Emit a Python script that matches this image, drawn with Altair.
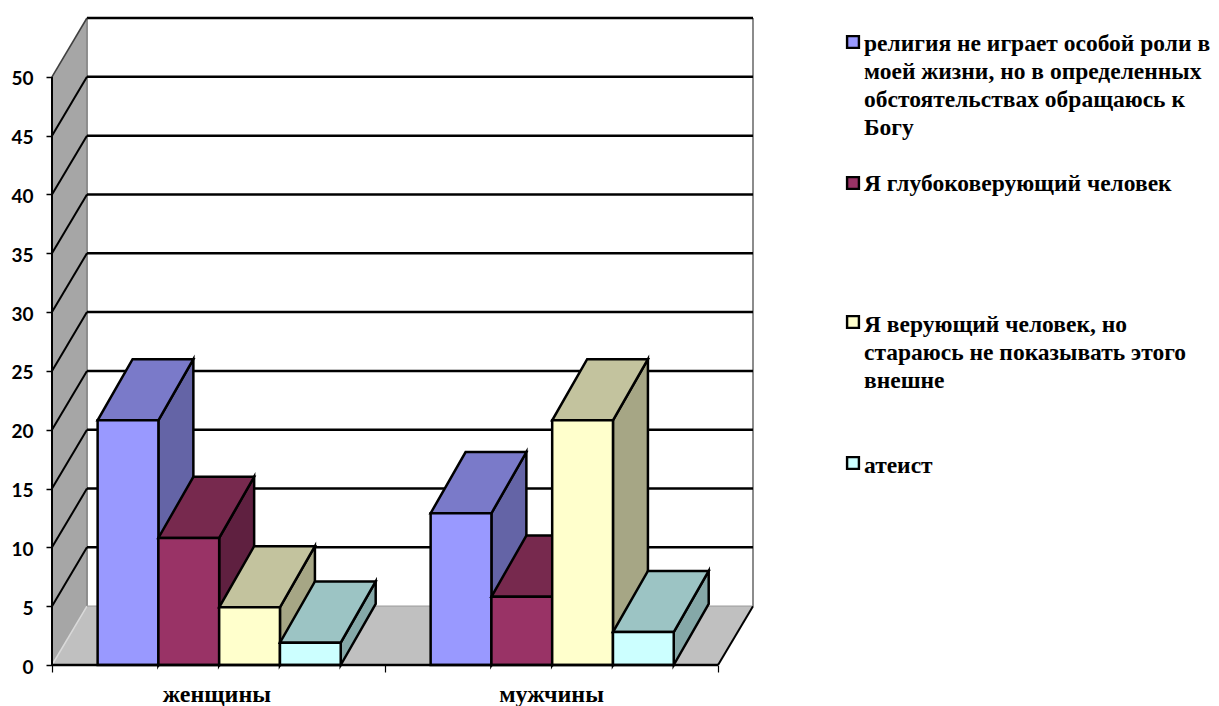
import altair as alt
import pandas as pd

categories = ["женщины", "мужчины"]
series = [
    "религия не играет особой роли в\nмоей жизни, но в определенных\nобстоятельствах обращаюсь к\nБогу",
    "Я глубоковерующий человек",
    "Я верующий человек, но\nстараюсь не показывать этого\nвнешне",
    "атеист",
]
values_women = [20.8, 10.8, 4.9, 1.9]
values_men = [12.9, 5.8, 20.8, 2.8]
front_colors = ["#9999FF", "#993366", "#FFFFCC", "#CCFFFF"]
top_colors = ["#7A7AC9", "#77294E", "#C3C39E", "#9CC4C4"]
side_colors = ["#6464A6", "#5F2040", "#A6A685", "#85A8A8"]
y_ticks = list(range(0, 55, 5))

DX, DY = 0.105, 5          # oblique depth, in axis units
BAR_DY = 5.2
GROUP_START = 0.137
BAR_W = 0.1825
YMAX = 55

sx = alt.Scale(domain=[0, 2 + DX], nice=False, zero=False)
sy = alt.Scale(domain=[0, YMAX], nice=False, zero=False)
x_axis = alt.Axis(
    values=[0, 1, 2], labels=False, title=None, grid=False, domain=False,
    ticks=True, tickSize=7, tickColor="#000000", tickWidth=1.2)
y_axis = alt.Axis(
    values=y_ticks, title=None, grid=False, domain=False, tickSize=6,
    tickColor="#000000", tickWidth=1.5, labelFont="Lato", labelFontWeight="bold",
    labelFontSize=19, labelColor="#000000", labelPadding=13, labelOffset=2)
X = alt.X("x:Q", scale=sx, axis=x_axis)
Y = alt.Y("y:Q", scale=sy, axis=y_axis)

# faces: every polygon is an area with points (x, y, y2)
faces = []
fid = 0
def face(points, fill):
    global fid
    fid += 1
    for px, py, py2 in points:
        faces.append({"x": px, "y": py, "y2": py2, "id": fid, "fill": fill})

for g, vals in enumerate([values_women, values_men]):
    for i, v in enumerate(vals):
        a = g + GROUP_START + i * BAR_W
        b = a + BAR_W
        face([(b, 0, v), (b + DX, BAR_DY, v + BAR_DY)], side_colors[i])
        face([(a, v, v), (a + DX, v, v + BAR_DY), (b, v, v + BAR_DY), (b + DX, v + BAR_DY, v + BAR_DY)], top_colors[i])
        face([(a, 0, v), (b, 0, v)], front_colors[i])

def area_layer(rows, **mark):
    return alt.Chart(pd.DataFrame(rows)).mark_area(**mark).encode(
        x=X, y=Y, y2=alt.Y2("y2:Q"),
        color=alt.Color("fill:N", scale=None),
        detail="id:N",
    )

wall = alt.Chart(pd.DataFrame([
    {"x": 0, "y": 0, "y2": 50},
    {"x": DX, "y": DY, "y2": 50 + DY},
])).mark_area(color="#A6A6A6").encode(x=X, y=Y, y2=alt.Y2("y2:Q"))

floor = alt.Chart(pd.DataFrame([
    {"x": 0, "y": 0, "y2": 0},
    {"x": DX, "y": 0, "y2": DY},
    {"x": 2, "y": 0, "y2": DY},
    {"x": 2 + DX, "y": DY, "y2": DY},
])).mark_area(color="#C0C0C0").encode(x=X, y=Y, y2=alt.Y2("y2:Q"))

# lines behind the bars
back = []
def seg(x, y, x2, y2, c="#000000", w=2.5):
    back.append({"x": x, "y": y, "x2": x2, "y2": y2, "c": c, "w": w})

seg(DX, DY, DX, YMAX, "#8C8C8C", 2)
seg(2 + DX, DY, 2 + DX, YMAX, "#8C8C8C", 2)
seg(0, 0, DX, DY, "#D9D9D9", 1.5)
for v in y_ticks[1:]:
    seg(DX, v + DY, 2 + DX, v + DY)
    seg(0, v, DX, v + DY, "#000000" if v < 50 else "#404040", 2 if v < 50 else 1.6)
seg(DX, DY, 2 + DX, DY, "#A0A0A0", 1.2)
seg(2, 0, 2 + DX, DY, "#000000", 2)
seg(0, 0, 0, 50, "#000000", 2)

def rule_layer(rows):
    return alt.Chart(pd.DataFrame(rows)).mark_rule().encode(
        x=X, y=Y, x2="x2:Q", y2="y2:Q",
        color=alt.Color("c:N", scale=None),
        strokeWidth=alt.StrokeWidth("w:Q", scale=None),
    )

front_axis = rule_layer([{"x": 0, "y": 0, "x2": 2, "y2": 0, "c": "#000000", "w": 2.6}])

bars = area_layer(faces, stroke="#000000", strokeWidth=2.5, strokeJoin="miter")

cat_labels = alt.Chart(pd.DataFrame({
    "x": [0.495, 1.5], "y": [0, 0], "t": categories,
})).mark_text(font="Liberation Serif", fontWeight="bold", fontSize=24, dy=30, color="#000000").encode(
    x=X, y=Y, text="t:N")

# legend, placed in the free space at the right of the plot (pixels from plot origin)
legend_layers = []
text_y = [13.5, 153.5, 295, 435.5]
swatch_y = [24, 165, 304, 445]
for i, name in enumerate(series):
    legend_layers.append(
        alt.Chart(pd.DataFrame({"t": [name]})).mark_text(
            font="Liberation Serif", fontWeight="bold", fontSize=23.5, align="left",
            baseline="top", lineBreak="\n", lineHeight=28, color="#000000",
        ).encode(x=alt.value(812), y=alt.value(text_y[i]), text="t:N")
    )
    legend_layers.append(
        alt.Chart(pd.DataFrame({"t": [name]})).mark_point(
            shape="square", filled=True, size=140, fill=front_colors[i], stroke="#000000",
            strokeWidth=2.4, opacity=1,
        ).encode(x=alt.value(801), y=alt.value(swatch_y[i]))
    )

chart = alt.layer(
    wall, floor, rule_layer(back), bars, front_axis, cat_labels, *legend_layers
).properties(
    width=701, height=647,
    padding={"left": 44, "top": 10, "right": 458, "bottom": 41},
    autosize=alt.AutoSizeParams(type="none"),
    background="#FFFFFF",
).configure_view(stroke=None)

chart.save("out.html", embed_options={"renderer": "svg", "actions": False})
